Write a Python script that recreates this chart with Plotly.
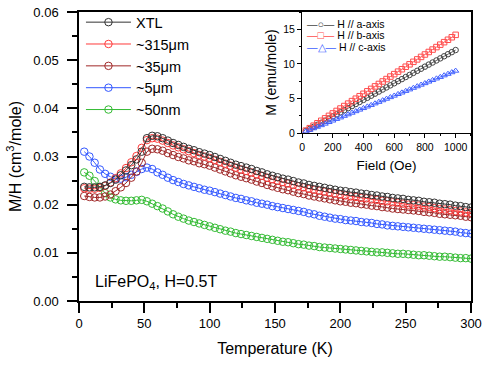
import plotly.graph_objects as go

# ---------------- main panel data ----------------
temperature_K = [4, 8, 12, 16, 20, 24, 28, 32, 36, 40, 44, 48, 52, 56, 60, 64, 68, 72, 76, 80,
                 84, 88, 92, 96, 100, 104, 108, 112, 116, 120, 124, 128, 132, 136, 140, 144, 148, 152, 156, 160,
                 164, 168, 172, 176, 180, 184, 188, 192, 196, 200, 204, 208, 212, 216, 220, 224, 228, 232, 236, 240,
                 244, 248, 252, 256, 260, 264, 268, 272, 276, 280, 284, 288, 292, 296, 300]

chi_xtl = [0.0237, 0.0236, 0.0236, 0.0237, 0.0240, 0.0245, 0.0252, 0.0261, 0.0271, 0.0282, 0.0294, 0.0310, 0.0338, 0.0343, 0.0342, 0.0338, 0.0333, 0.0328, 0.0324, 0.0320,
           0.0316, 0.0313, 0.0309, 0.0306, 0.0303, 0.0299, 0.0295, 0.0291, 0.0287, 0.0283, 0.0280, 0.0277, 0.0274, 0.0270, 0.0267, 0.0263, 0.0260, 0.0257, 0.0254, 0.0252,
           0.0249, 0.0246, 0.0244, 0.0241, 0.0239, 0.0237, 0.0235, 0.0233, 0.0231, 0.0229, 0.0228, 0.0226, 0.0225, 0.0223, 0.0222, 0.0220, 0.0219, 0.0217, 0.0216, 0.0214,
           0.0213, 0.0212, 0.0210, 0.0209, 0.0208, 0.0206, 0.0205, 0.0204, 0.0202, 0.0201, 0.0200, 0.0198, 0.0197, 0.0195, 0.0194]

chi_315um = [0.0234, 0.0233, 0.0233, 0.0235, 0.0239, 0.0246, 0.0255, 0.0265, 0.0276, 0.0288, 0.0301, 0.0318, 0.0334, 0.0338, 0.0337, 0.0333, 0.0328, 0.0323, 0.0319, 0.0315,
             0.0311, 0.0307, 0.0303, 0.0300, 0.0297, 0.0293, 0.0289, 0.0285, 0.0281, 0.0277, 0.0273, 0.0270, 0.0267, 0.0263, 0.0260, 0.0256, 0.0253, 0.0250, 0.0247, 0.0244,
             0.0241, 0.0238, 0.0236, 0.0233, 0.0231, 0.0229, 0.0227, 0.0225, 0.0223, 0.0221, 0.0219, 0.0217, 0.0216, 0.0214, 0.0213, 0.0211, 0.0210, 0.0208, 0.0207, 0.0205,
             0.0204, 0.0202, 0.0200, 0.0199, 0.0198, 0.0196, 0.0195, 0.0193, 0.0191, 0.0190, 0.0189, 0.0187, 0.0186, 0.0184, 0.0183]

chi_35um = [0.0218, 0.0216, 0.0215, 0.0215, 0.0217, 0.0221, 0.0228, 0.0236, 0.0245, 0.0256, 0.0269, 0.0287, 0.0310, 0.0316, 0.0315, 0.0312, 0.0307, 0.0303, 0.0299, 0.0296,
            0.0292, 0.0290, 0.0286, 0.0284, 0.0281, 0.0277, 0.0273, 0.0269, 0.0265, 0.0261, 0.0258, 0.0255, 0.0252, 0.0248, 0.0245, 0.0241, 0.0238, 0.0235, 0.0232, 0.0230,
            0.0227, 0.0224, 0.0222, 0.0219, 0.0217, 0.0215, 0.0213, 0.0211, 0.0209, 0.0207, 0.0206, 0.0204, 0.0203, 0.0201, 0.0200, 0.0198, 0.0197, 0.0195, 0.0194, 0.0192,
            0.0191, 0.0190, 0.0189, 0.0188, 0.0187, 0.0185, 0.0184, 0.0183, 0.0181, 0.0180, 0.0179, 0.0178, 0.0177, 0.0175, 0.0174]

chi_5um = [0.0310, 0.0300, 0.0287, 0.0273, 0.0264, 0.0258, 0.0254, 0.0254, 0.0257, 0.0262, 0.0268, 0.0274, 0.0277, 0.0274, 0.0267, 0.0262, 0.0256, 0.0251, 0.0247, 0.0243,
           0.0240, 0.0237, 0.0234, 0.0231, 0.0229, 0.0226, 0.0223, 0.0220, 0.0217, 0.0214, 0.0212, 0.0209, 0.0207, 0.0204, 0.0202, 0.0200, 0.0197, 0.0195, 0.0193, 0.0191,
           0.0189, 0.0187, 0.0185, 0.0182, 0.0180, 0.0177, 0.0175, 0.0173, 0.0171, 0.0170, 0.0168, 0.0167, 0.0166, 0.0164, 0.0163, 0.0162, 0.0160, 0.0159, 0.0157, 0.0156,
           0.0155, 0.0154, 0.0153, 0.0152, 0.0151, 0.0150, 0.0149, 0.0148, 0.0147, 0.0146, 0.0145, 0.0144, 0.0142, 0.0141, 0.0140]

chi_50nm = [0.0267, 0.0260, 0.0249, 0.0236, 0.0224, 0.0215, 0.0211, 0.0209, 0.0208, 0.0208, 0.0209, 0.0210, 0.0207, 0.0202, 0.0197, 0.0192, 0.0186, 0.0180, 0.0175, 0.0171,
            0.0167, 0.0164, 0.0161, 0.0158, 0.0155, 0.0152, 0.0149, 0.0146, 0.0144, 0.0141, 0.0139, 0.0137, 0.0135, 0.0133, 0.0131, 0.0129, 0.0127, 0.0125, 0.0123, 0.0122,
            0.0120, 0.0118, 0.0117, 0.0115, 0.0114, 0.0112, 0.0111, 0.0110, 0.0109, 0.0108, 0.0107, 0.0106, 0.0105, 0.0104, 0.0103, 0.0102, 0.0101, 0.0101, 0.0100, 0.0099,
            0.0098, 0.0098, 0.0097, 0.0096, 0.0095, 0.0095, 0.0094, 0.0093, 0.0092, 0.0092, 0.0091, 0.0090, 0.0089, 0.0089, 0.0088]

sample_names = ["XTL", "~315μm", "~35μm", "~5μm", "~50nm"]

# ---------------- inset data ----------------
field_Oe = [25, 50, 75, 100, 125, 150, 175, 200, 225, 250, 275, 300, 325, 350, 375, 400, 425, 450, 475, 500,
            525, 550, 575, 600, 625, 650, 675, 700, 725, 750, 775, 800, 825, 850, 875, 900, 925, 950, 975, 1000]
m_a_axis = [0.30, 0.60, 0.90, 1.20, 1.50, 1.80, 2.10, 2.40, 2.70, 3.00, 3.30, 3.60, 3.90, 4.20, 4.50, 4.80, 5.10, 5.40, 5.70, 6.00,
            6.30, 6.60, 6.90, 7.20, 7.50, 7.80, 8.10, 8.40, 8.70, 9.00, 9.30, 9.60, 9.90, 10.20, 10.50, 10.80, 11.10, 11.40, 11.70, 12.00]
m_b_axis = [0.36, 0.71, 1.07, 1.42, 1.78, 2.13, 2.49, 2.84, 3.20, 3.55, 3.91, 4.26, 4.62, 4.97, 5.33, 5.68, 6.04, 6.39, 6.75, 7.10,
            7.46, 7.81, 8.17, 8.52, 8.88, 9.23, 9.59, 9.94, 10.30, 10.65, 11.01, 11.36, 11.72, 12.07, 12.43, 12.78, 13.14, 13.49, 13.85, 14.20]
m_c_axis = [0.23, 0.45, 0.68, 0.90, 1.13, 1.35, 1.58, 1.80, 2.03, 2.25, 2.48, 2.70, 2.93, 3.15, 3.38, 3.60, 3.83, 4.05, 4.28, 4.50,
            4.73, 4.95, 5.18, 5.40, 5.63, 5.85, 6.08, 6.30, 6.53, 6.75, 6.98, 7.20, 7.43, 7.65, 7.88, 8.10, 8.33, 8.55, 8.78, 9.00]

FONT = "Liberation Sans, Arial, sans-serif"

main_series = [
    (sample_names[4], chi_50nm, "#33bb33"),
    (sample_names[3], chi_5um, "#3358ff"),
    (sample_names[2], chi_35um, "#a02828"),
    (sample_names[1], chi_315um, "#ff3b3b"),
    (sample_names[0], chi_xtl, "#333333"),
]

fig = go.Figure()
for name, vals, col in main_series:
    fig.add_trace(go.Scatter(
        x=temperature_K, y=vals, name=name, mode="lines+markers",
        line=dict(color=col, width=1),
        marker=dict(symbol="circle-open", size=7.5, color=col, line=dict(width=1, color=col)),
        xaxis="x", yaxis="y"))

inset_series = [
    ("H // a-axis", m_a_axis, "#444444", "circle-open"),
    ("H // b-axis", m_b_axis, "#ff4d4d", "square-open"),
    ("H // c-axis", m_c_axis, "#3f5fff", "triangle-up-open"),
]
for name, vals, col, sym in inset_series:
    fig.add_trace(go.Scatter(
        x=field_Oe, y=vals, name=name, mode="lines+markers", showlegend=False,
        line=dict(color=col, width=0.8),
        marker=dict(symbol=sym, size=5.5, color=col, line=dict(width=1, color=col)),
        xaxis="x2", yaxis="y2"))

axis_common = dict(showgrid=False, zeroline=False, showline=True, linecolor="black",
                   ticks="outside", tickcolor="black", mirror=True, automargin=False,
                   ticklabeloverflow="allow",
                   tickfont=dict(family=FONT, size=13, color="black"))

fig.update_layout(
    width=485, height=367,
    margin=dict(l=79, r=14, t=12, b=66, autoexpand=False),
    paper_bgcolor="white", plot_bgcolor="white",
    font=dict(family=FONT, color="black"),
    xaxis=dict(**axis_common, range=[0, 300], dtick=50, ticklen=10, tickwidth=1.5, linewidth=1.5,
               minor=dict(dtick=25, ticklen=5, ticks="outside", tickwidth=1.5, tickcolor="black"),
               title=dict(text="Temperature (K)", font=dict(family=FONT, size=16), standoff=12)),
    yaxis=dict(**axis_common, range=[0, 0.06], dtick=0.01, tickformat=".2f", ticklen=10, tickwidth=1.5,
               linewidth=1.5, ticklabelstandoff=6,
               minor=dict(dtick=0.005, ticklen=5, ticks="outside", tickwidth=1.5, tickcolor="black"),
               title=dict(text="M/H (cm<sup>3</sup>/mole)", font=dict(family=FONT, size=16), standoff=8)),
    xaxis2=dict(showgrid=False, zeroline=False, showline=True, linecolor="black", linewidth=1,
                ticks="outside", tickcolor="black", mirror=True, automargin=False,
                domain=[0.569, 1.0], anchor="y2", range=[0, 1100], dtick=200, ticklen=4,
                minor=dict(dtick=100, ticklen=2, ticks="outside", tickcolor="black"),
                tickfont=dict(family=FONT, size=10.5, color="black"),
                title=dict(text="Field (Oe)", font=dict(family=FONT, size=13.5), standoff=8)),
    yaxis2=dict(showgrid=False, zeroline=False, showline=True, linecolor="black", linewidth=1,
                ticks="outside", tickcolor="black", mirror=True, automargin=False,
                domain=[0.581, 1.0], anchor="x2", range=[0, 17.5], dtick=5, ticklen=4,
                minor=dict(dtick=2.5, ticklen=2, ticks="outside", tickcolor="black"),
                tickfont=dict(family=FONT, size=10.5, color="black"),
                title=dict(text="M (emu/mole)", font=dict(family=FONT, size=14), standoff=3)),
    legend=dict(x=0.005, y=1.02, xanchor="left", yanchor="top", traceorder="reversed",
                bgcolor="rgba(0,0,0,0)", borderwidth=0, itemwidth=45,
                font=dict(family=FONT, size=14.5, color="black")),
    showlegend=True,
)

# inset legend (text keys)
key_glyphs = ["—○—", "—□—", "—△—"]
for i, (name, vals, col, sym) in enumerate(inset_series):
    fig.add_annotation(
        xref="x2 domain", yref="y2 domain", x=0.02, y=0.905 - i * 0.095,
        xanchor="left", yanchor="middle", showarrow=False,
        text=f'<span style="color:{col}">{key_glyphs[i]}</span> {name}',
        font=dict(family=FONT, size=10.5, color="black"))

fig.add_annotation(
    xref="paper", yref="paper", x=0.035, y=0.065, xanchor="left", yanchor="middle",
    showarrow=False, text="LiFePO<sub>4</sub>, H=0.5T",
    font=dict(family=FONT, size=16, color="black"))

fig.write_html("out.html", config={"displayModeBar": False},
               post_script="document.body.style.margin='0';document.body.style.overflow='hidden';")
